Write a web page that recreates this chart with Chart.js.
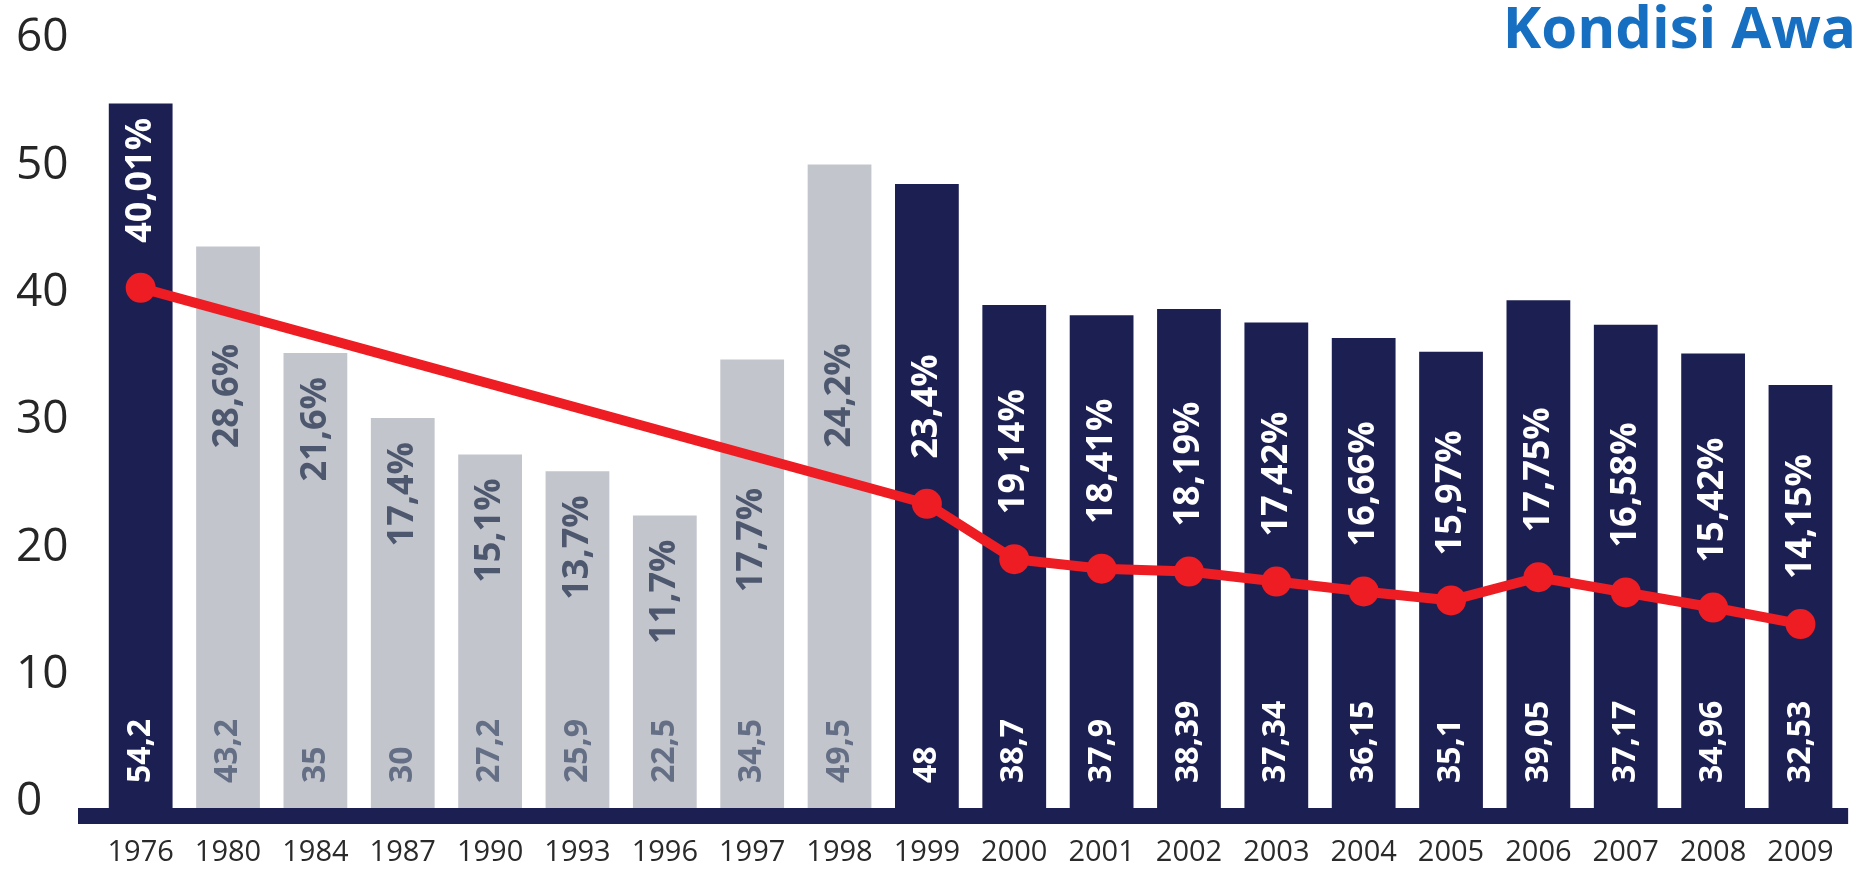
<!DOCTYPE html>
<html>
<head>
<meta charset="utf-8">
<title>Penduduk Miskin</title>
<script src="https://cdn.jsdelivr.net/npm/chart.js@4.4.1/dist/chart.umd.min.js"></script>
<style>
body{margin:0;background:#fff}
#wrap{position:relative;width:1861px;height:870px;overflow:hidden}
#judul{position:absolute;right:5px;top:-14px;font-family:'Open Sans',sans-serif;font-weight:700;font-size:58px;color:#166fc1;white-space:nowrap}
</style>
</head>
<body>
<div id="wrap">
<canvas id="grafik" width="1861" height="870"></canvas>
<div id="judul">Kondisi Awa</div>
</div>
<script>

let tahun=["1976","1980","1984","1987","1990","1993","1996","1997","1998","1999","2000","2001","2002","2003","2004","2005","2006","2007","2008","2009"]

// jumlah penduduk miskin (juta)
let jumlah=[54.2,43.2,35,30,27.2,25.9,22.5,34.5,49.5,48,38.7,37.9,38.39,37.34,36.15,35.1,39.05,37.17,34.96,32.53]

// persentase penduduk miskin
let persen=[40.01,28.6,21.6,17.4,15.1,13.7,11.7,17.7,24.2,23.4,19.14,18.41,18.19,17.42,16.66,15.97,17.75,16.58,15.42,14.15]

// tahun yang batangnya biru tua dan punya titik di garis
let tahunUtama=["1976","1999","2000","2001","2002","2003","2004","2005","2006","2007","2008","2009"]

let yTicks=[0,10,20,30,40,50,60]

let biru="#1c1f52"
let abu="#c3c5cd"
let merah="#ee1d23"

let utama=tahun.map(t=>tahunUtama.includes(t))
let garis=persen.map((p,i)=>utama[i]?p:null)

function koma(v){
return String(v).replace(".",",")
}

let labelPlugin={
id:"labelBatang",
beforeDatasetsDraw(chart){
let ctx=chart.ctx
let y0=chart.scales.y.getPixelForValue(0)
ctx.save()
ctx.fillStyle=biru
ctx.fillRect(78,y0,chart.chartArea.right+4-78,16)
ctx.restore()
},
afterDatasetsDraw(chart){
let ctx=chart.ctx
let bars=chart.getDatasetMeta(1).data
let pts=chart.getDatasetMeta(0).data
let y0=chart.scales.y.getPixelForValue(0)

ctx.save()
ctx.textBaseline="middle"
ctx.textAlign="left"

bars.forEach((bar,i)=>{

// angka jumlah di kaki batang
ctx.font="bold 32px 'Open Sans'"
ctx.fillStyle=utama[i]?"#ffffff":"#646f85"
ctx.save()
ctx.translate(bar.x,y0-25)
ctx.rotate(-Math.PI/2)
ctx.fillText(koma(jumlah[i]),0,0)
ctx.restore()

// posisi garis di batang ini
let ly
if(utama[i]){
ly=pts[i].y
}else{
let a=i-1,b=i+1
while(!utama[a]) a--
while(!utama[b]) b++
let pa=pts[a],pb=pts[b]
ly=pa.y+(pb.y-pa.y)*(bar.x-pa.x)/(pb.x-pa.x)
}

let teks=koma(persen[i])+"%"
ctx.font="bold 36px 'Open Sans'"
let w=ctx.measureText(teks).width
let jarak=utama[i]?45:32
let mulai
if(ly-bar.y>=w+jarak){
mulai=ly-jarak
}else{
mulai=Math.max(bar.y+24,ly+32)+w
}
ctx.fillStyle=utama[i]?"#ffffff":"#4d586e"
ctx.save()
ctx.translate(bar.x,mulai)
ctx.rotate(-Math.PI/2)
ctx.fillText(teks,0,0)
ctx.restore()

})

ctx.restore()
}
}

Chart.defaults.font.family="'Open Sans', sans-serif"

new Chart(document.getElementById("grafik"),{
type:"bar",
data:{
labels:tahun,
datasets:[
{
type:"line",
data:garis,
spanGaps:true,
borderColor:merah,
borderWidth:10,
pointRadius:15,
pointBackgroundColor:merah,
pointBorderWidth:0,
tension:0,
order:0
},
{
data:jumlah,
backgroundColor:utama.map(u=>u?biru:abu),
barPercentage:0.73,
categoryPercentage:1,
order:1
}
]
},
options:{
responsive:false,
animation:false,
devicePixelRatio:1,
layout:{padding:{left:16,top:28,right:10,bottom:0}},
plugins:{legend:{display:false},tooltip:{enabled:false}},
scales:{
x:{
grid:{display:false,drawTicks:false},
border:{display:false},
ticks:{color:"#2a2a2a",font:{size:29},padding:27,maxRotation:0,autoSkip:false},
afterFit(s){s.height=62}
},
y:{
display:false,
min:0,
max:60
},
// sumbu angka di kiri, jaraknya sedikit lebih rapat dari batang
yAngka:{
position:"left",
min:-0.47,
max:60.8,
grid:{display:false,drawTicks:false},
border:{display:false},
afterBuildTicks(s){s.ticks=yTicks.map(v=>({value:v}))},
ticks:{color:"#262626",font:{size:46},crossAlign:"far",padding:0},
afterFit(s){s.width=81}
}
}
},
plugins:[labelPlugin]
})

</script>
</body>
</html>
